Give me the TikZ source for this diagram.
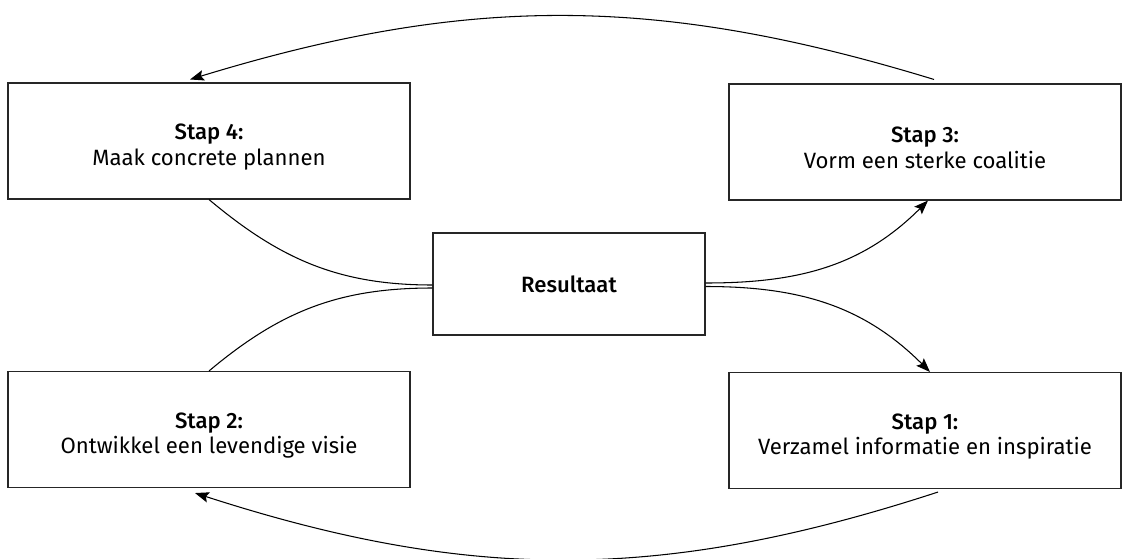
\documentclass[tikz,border=0pt]{standalone}
\usepackage{fontspec}
\setmainfont{Fira Sans}[BoldFont={Fira Sans Medium}]
\usetikzlibrary{arrows.meta}

\newcommand{\staptekst}[2]{\rule{0pt}{1.25em}\textbf{Stap #1:}\\#2}

\begin{document}
\begin{tikzpicture}[
        stapbox/.style={draw=black!85, line width=0.6pt, minimum width=8.04cm, minimum height=2.32cm,
            inner sep=0pt, align=center, font=\fontsize{12.6}{14.6}\selectfont},
        resbox/.style={stapbox, minimum width=5.44cm, minimum height=2.04cm},
        lijn/.style={line width=0.6pt},
        pijl/.style={lijn, -{Stealth[length=8pt, width=6pt, inset=1.5pt]}}]
        \useasboundingbox (0, 0) rectangle (22.44, 11.16);

        % de vier stappen en het resultaat
        \node[stapbox] (s4) at (4.18, 8.34) {\staptekst{4}{Maak concrete plannen}};
        \node[stapbox, minimum width=7.84cm] (s3) at (18.50, 8.32) {\staptekst{3}{Vorm een sterke coalitie}};
        \node[resbox] (res) at (11.38, 5.48) {\textbf{Resultaat}};
        \node[stapbox] (s2) at (4.18, 2.57) {\staptekst{2}{Ontwikkel een levendige visie}};
        \node[stapbox, minimum width=7.84cm] (s1) at (18.50, 2.55) {\staptekst{1}{Verzamel informatie en inspiratie}};

        % de cirkel rond
        \draw[pijl] ([xshift=0.18cm, yshift=0.08cm]s3.north) to[bend right=17] ([xshift=-0.38cm, yshift=0.06cm]s4.north);
        \draw[pijl] ([xshift=0.26cm, yshift=-0.06cm]s1.south) to[bend left=18] ([xshift=-0.28cm, yshift=-0.1cm]s2.south);

        % van en naar het resultaat
        \draw[pijl] ([yshift=0.02cm]res.east) to[out=0, in=-135] ([xshift=0.06cm]s3.south);
        \draw[pijl] ([yshift=-0.05cm]res.east) to[out=0, in=135] ([xshift=0.1cm]s1.north);
        \draw[lijn] (s4.south) to[out=-40, in=180] ([yshift=-0.02cm]res.west);
        \draw[lijn] ([yshift=-0.08cm]res.west) to[out=180, in=40] (s2.north);

        \end{tikzpicture}
\end{document}
